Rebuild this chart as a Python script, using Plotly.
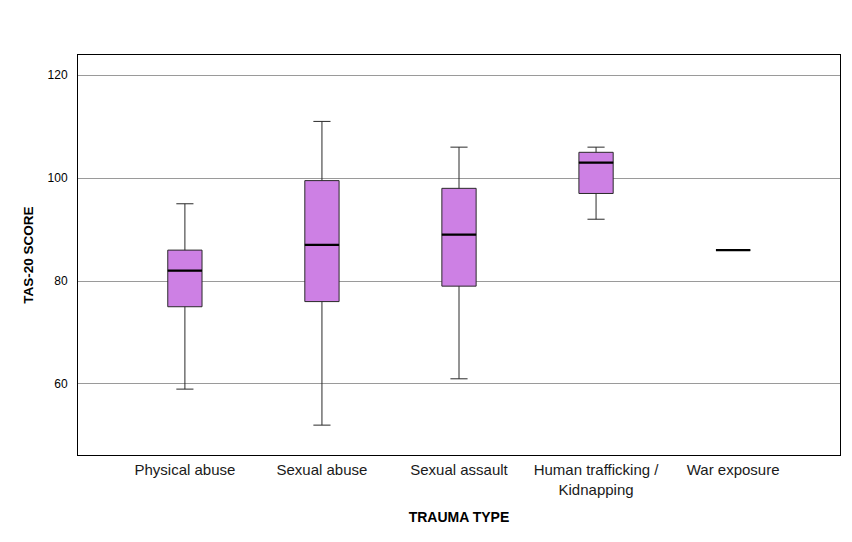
import plotly.graph_objects as go

categories = ["Physical abuse", "Sexual abuse", "Sexual assault", "Human trafficking /<br>Kidnapping", "War exposure"]
lower = [59, 52, 61, 92, 86]
q1 = [75, 76, 79, 97, 86]
median = [82, 87, 89, 103, 86]
q3 = [86, 99.5, 98, 105, 86]
upper = [95, 111, 106, 106, 86]
y_ticks = [60, 80, 100, 120]

pos = list(range(len(categories)))
box_w = 0.25

fig = go.Figure()
fig.add_trace(go.Box(
    x=pos, q1=q1, median=median, q3=q3, lowerfence=lower, upperfence=upper,
    width=box_w, whiskerwidth=0.5,
    fillcolor="#CD80E4", line=dict(color="#2a2a2a", width=1),
    boxpoints=False, showlegend=False, hoverinfo="skip",
))
mx, my = [], []
for p, m in zip(pos, median):
    mx += [p - box_w / 2, p + box_w / 2, None]
    my += [m, m, None]
fig.add_trace(go.Scatter(x=mx, y=my, mode="lines", line=dict(color="black", width=2.2),
                         showlegend=False, hoverinfo="skip"))

fig.update_layout(
    width=852, height=542,
    margin=dict(l=78, r=12, t=55, b=87, autoexpand=False),
    paper_bgcolor="white", plot_bgcolor="white",
    font=dict(family="Liberation Sans, Arial, sans-serif", color="black"),
)
fig.update_xaxes(
    range=[-0.78, 4.78], tickvals=pos, ticktext=categories,
    tickfont=dict(size=15, color="#1a1a1a"), ticks="", showgrid=False, zeroline=False,
    showline=True, linecolor="black", linewidth=1, mirror=True,
    ticklabelstandoff=1, automargin=False,
    title=dict(text="<b>TRAUMA TYPE</b>", font=dict(size=14), standoff=15),
)
fig.update_yaxes(
    range=[46.2, 123.9], tickvals=y_ticks, tickfont=dict(size=12), ticks="",
    showgrid=True, gridcolor="#9a9a9a", gridwidth=1, zeroline=False,
    showline=True, linecolor="black", linewidth=1, mirror=True,
    ticklabelstandoff=7, automargin=False,
    title=dict(text="<b>TAS-20 SCORE</b>", font=dict(size=13.5), standoff=10),
)
fig.write_html("out.html", config={"displayModeBar": False},
               post_script="document.body.style.margin='0';")
